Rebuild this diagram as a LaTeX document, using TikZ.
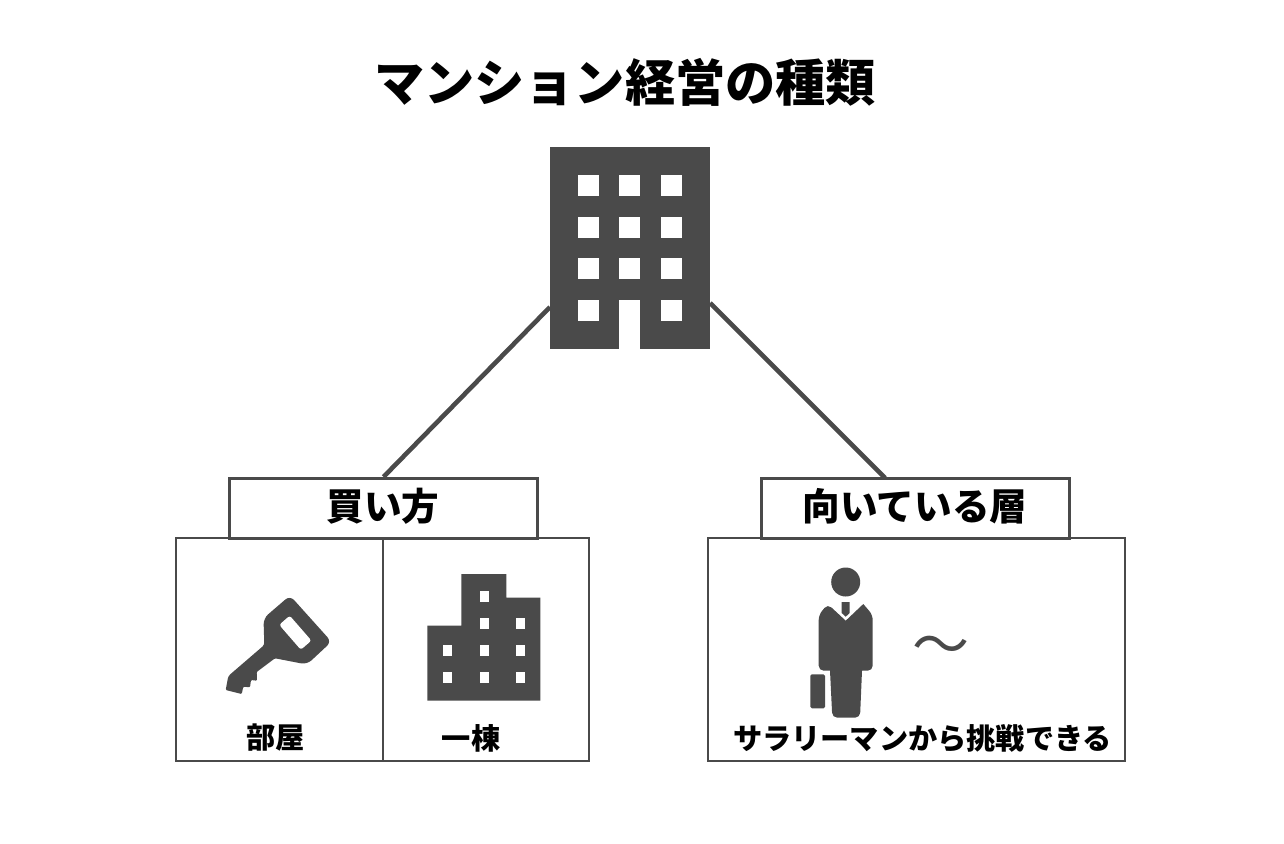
\documentclass[tikz,border=0pt]{standalone}
\usepackage{fontspec}
\newfontfamily\jp{Noto Sans CJK JP}
\definecolor{ink}{HTML}{4A4A4A}
\tikzset{
  x=1pt,y=-1pt,
  titletext/.style={inner sep=0pt,font=\jp\bfseries\fontsize{50.2}{54}\selectfont,text=black},
  headbox/.style={draw=ink,line width=2.8pt,fill=white,inner sep=0pt,minimum height=60pt},
  headtext/.style={inner sep=0pt,font=\jp\bfseries\fontsize{37.6}{40}\selectfont,text=black},
  panel/.style={draw=ink,line width=1.8pt,fill=white,inner sep=0pt},
  smalltext/.style={inner sep=0pt,font=\jp\bfseries\fontsize{29.2}{32}\selectfont,text=black},
  wave/.style={inner sep=0pt,font=\jp\fontsize{57}{60}\selectfont,text=ink},
  link/.style={draw=ink,line width=4.6pt},
  icon/.style={fill=ink,draw=none},
  win/.style={fill=white,draw=none},
}
\begin{document}
\begin{tikzpicture}
\useasboundingbox[fill=white] (0,0) rectangle (1284,843);
% title
\node[titletext] (title) at (625,82) {マンション経営の種類};
% top building
\node[icon,minimum width=160pt,minimum height=202pt,inner sep=0pt] (bldg) at (630,248) {};
\foreach \x in {577.7,619.3,661.3}
  \foreach \y in {174.7,216.7,258.3}
    \fill[win] (\x,\y) rectangle ++(21,21);
\fill[win] (577.7,300.3) rectangle ++(21,21);
\fill[win] (661.3,300.3) rectangle ++(21,21);
\fill[win] (619.3,300.3) rectangle (640.3,349.2);
% panels
\node[panel,minimum width=413pt,minimum height=223pt] (lpanel) at (382.5,649.7) {};
\node[panel,minimum width=417pt,minimum height=223pt] (rpanel) at (916.5,649.7) {};
\coordinate (ldivtop) at (382.7,538.3);
\coordinate (ldivbot) at (382.7,761.2);
\draw[draw=ink,line width=1.8pt] (ldivtop) -- (ldivbot);
% headings
\node[headbox,minimum width=308pt] (lhead) at (383.5,508.3) {};
\node[headbox,minimum width=308pt] (rhead) at (915.5,508.3) {};
\node[headtext] (ltext) at (383,506.5) {買い方};
\node[headtext] (rtext) at (915,506.5) {向いている層};
% connectors
\coordinate (bl) at (550,307);
\coordinate (br) at (710,303);
\coordinate (rtop) at (885,478);
\draw[link] (bl) -- (lhead.north);
\draw[link] (br) -- (rtop);
% key
\path[icon,rounded corners=2.5pt,fill=ink]
  (225.7,690) -- (228.3,676) -- (264.3,645)
  [rounded corners=6pt] -- (263.5,618.3) -- (290,595.5) -- (331.5,641.7) -- (307,664.5)
  [rounded corners=1pt] -- (275,658.3) -- (256.7,672) -- (257,680.7) -- (251,680) -- (250,687.3) -- (243.3,686.7) -- (241.7,694) -- cycle;
\fill[win,rotate around={-49:(295.3,632.7)},rounded corners=2.5pt] (278.8,625.7) rectangle (311.8,639.7);
% lower building
\fill[icon] (427.3,625.7) -- (461.3,625.7) -- (461.3,574) -- (506.3,574) -- (506.3,597.7) -- (540.3,597.7) -- (540.3,700.7) -- (427.3,700.7) -- cycle;
\foreach \x/\y in {479.7/590.7,479.7/617.7,515.7/617.7,443.3/645,479.7/645,515.7/645,443.3/672,479.7/672,515.7/672}
  \fill[win] (\x,\y) rectangle ++(9,11);
% labels
\node[smalltext] (room) at (275.5,738) {部屋};
\node[smalltext] (whole) at (471,738) {一棟};
% person
\fill[icon] (845.7,582) circle (14.5);
\fill[icon,rounded corners=5pt] (827.7,604) [sharp corners] -- (845.7,620.7) -- (863.3,604) [rounded corners=5pt] -- (872.7,615) -- (872.7,670.7) [sharp corners] -- (862,670.7) [rounded corners=5pt] -- (860,717.7) -- (832.3,717.7) [sharp corners] -- (830,670.7) [rounded corners=5pt] -- (818.7,670.7) -- (818.7,615) -- cycle;
\fill[icon] (841.7,602) -- (849.7,602) -- (849.7,613) -- (845.7,616.7) -- (841.7,613) -- cycle;
\fill[icon,rounded corners=1.5pt] (810.3,674.3) rectangle (825,708.3);
\node[wave] (tilde) at (941,651) {〜};
\node[smalltext] (salary) at (922.5,738) {サラリーマンから挑戦できる};
\end{tikzpicture}
\end{document}
